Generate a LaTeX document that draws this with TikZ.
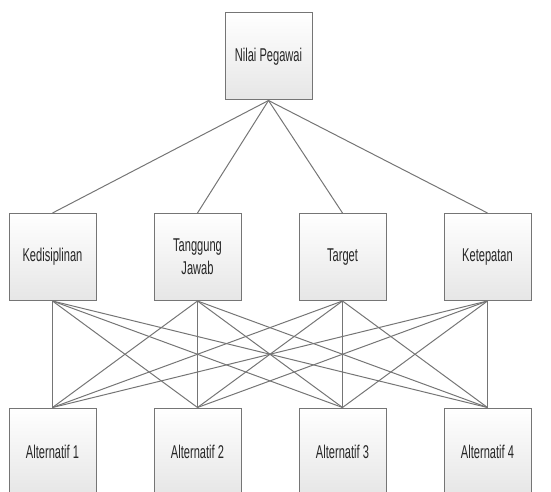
\documentclass[tikz,border=0pt]{standalone}
\usepackage{fontspec}
\setmainfont{Liberation Sans}[FakeStretch=0.6]
\definecolor{edgegray}{HTML}{757575}
\definecolor{txtgray}{HTML}{262626}
\definecolor{boxbot}{HTML}{E6E6E6}
\begin{document}
\begin{tikzpicture}[x=1pt,y=-1pt,
  box/.style={draw=edgegray, line width=1pt, top color=white, bottom color=boxbot,
    minimum width=87pt, minimum height=87pt, inner sep=0pt, align=center,
    text=txtgray, font=\fontsize{18.5}{23}\selectfont},
  link/.style={draw=edgegray, line width=1pt}]
\useasboundingbox (0,0) rectangle (551,492);
\begin{scope}
\clip (0,0) rectangle (551,492);
\node[box] (top) at (268.5,56.5) {Nilai Pegawai};
\node[box] (k1) at (52.5,257) {Kedisiplinan};
\node[box] (k2) at (197.5,257) {Tanggung\\Jawab};
\node[box] (k3) at (342.5,257) {Target};
\node[box] (k4) at (487.5,257) {Ketepatan};
\node[box] (a1) at (52.5,451.5) {Alternatif 1};
\node[box] (a2) at (197.5,451.5) {Alternatif 2};
\node[box] (a3) at (342.5,451.5) {Alternatif 3};
\node[box] (a4) at (487.5,451.5) {Alternatif 4};
\foreach \k in {k1,k2,k3,k4}
  \draw[link] (top.south) -- (\k.north);
\foreach \k in {k1,k2,k3,k4}
  \foreach \a in {a1,a2,a3,a4}
    \draw[link] (\k.south) -- (\a.north);
\end{scope}
\end{tikzpicture}
\end{document}
